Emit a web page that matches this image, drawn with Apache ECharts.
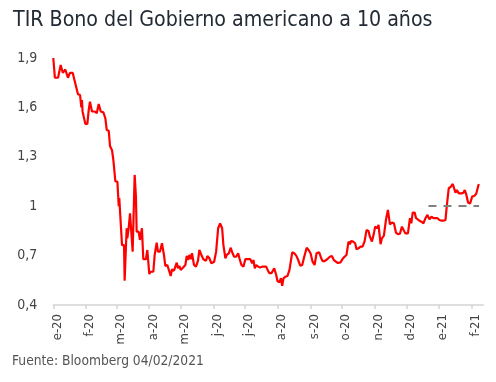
<!DOCTYPE html>
<html>
<head>
<meta charset="utf-8">
<script src="https://cdn.jsdelivr.net/npm/echarts@6/dist/echarts.min.js"></script>
<style>
html,body{margin:0;padding:0;background:#fff;}
#c{width:496px;height:382px;}
</style>
</head>
<body>
<div id="c"></div>
<script>
// Days since 2020-01-01
const days = [0,1.5,4.5,7,9,11.4,13.9,15.8,18.4,20.3,
21.5,23.4,25.4,26.6,27.2,27.8,29.1,30.4,32.3,33.6,
34.8,36.7,39.3,41.2,43.1,45,47.5,49.4,50.7,52.6,
53.8,55.7,57,58.9,60.8,62.1,62.6,64,65.2,67.1,
67.7,69.6,70.2,71.5,72.8,74,75.3,77.2,78.4,79.1,
81,82.2,84.1,85.4,87.9,89.2,91.1,92.4,94.9,96.2,
98.1,99.3,101.2,103.1,105,106.3,108.2,109.5,111.4,112.6,
114.5,115.8,117.1,118.3,119.6,120.9,123.4,125.3,126.6,127.8,
129.1,130.4,131.6,133.5,135.4,137.3,138.6,140.5,142.4,144.9,
146.2,148.1,150,152.6,154.5,156.4,158.3,160.2,161.4,163.3,
164.6,166.5,168.4,169.7,171.6,173.5,175.4,176.6,178.5,180.4,
182.3,184.9,186.8,188.7,189.9,191.2,192.5,194.4,196.3,198.2,
200.1,202,203.9,205.1,207,209.6,211.5,212.7,214.6,215.9,
217.2,218.4,220.3,222.2,224.1,226.7,228.6,230.5,232.4,234.3,
236.2,238.1,240.4,242.2,244.1,246,247.9,249.8,252.3,254.2,
255.5,257.4,259.9,262.4,264.3,266.2,268.1,270,272.5,274.4,
276.3,278.2,280.1,281.4,282.6,284.5,286.4,287.7,289.6,291.5,
293.4,295.3,297.2,299.1,300.4,302.3,304.2,305.4,307.3,308.6,
310.5,311.8,313.7,315.6,317.5,319.4,321.3,323.2,325.1,327,
328.9,330.8,332.1,334,336.5,338.4,339.7,341,342.9,344.2,
345.5,347.4,349.3,351.2,353.1,355,356.9,358.8,360.7,362.6,
364.5,366.4,368.3,370.2,372.1,373.3,375.2,377.1,379,380.3,
381.6,382.9,384.8,387.3,389.2,390.4,391.7,393.6,395.5,397.4,
399.3,401.2,403.7];

// 10-year US Treasury yield (%)
const values = [1.90,1.78,1.78,1.857,1.81,1.83,1.78,1.81,1.81,1.76,
1.75,1.68,1.675,1.60,1.645,1.574,1.566,1.50,1.50,1.584,
1.635,1.575,1.575,1.565,1.62,1.575,1.57,1.534,1.463,1.458,
1.366,1.34,1.28,1.15,1.15,1.00,1.05,0.896,0.764,0.764,
0.548,0.866,0.805,0.866,0.957,0.957,0.724,1.19,1.058,0.845,
0.845,0.795,0.866,0.678,0.678,0.734,0.588,0.602,0.602,0.704,
0.778,0.724,0.724,0.775,0.704,0.637,0.643,0.633,0.576,0.617,
0.608,0.617,0.657,0.623,0.637,0.613,0.629,0.643,0.698,0.673,
0.704,0.678,0.714,0.643,0.633,0.669,0.734,0.704,0.678,0.669,
0.698,0.684,0.653,0.663,0.724,0.866,0.896,0.866,0.764,0.684,
0.704,0.714,0.748,0.72,0.693,0.693,0.714,0.684,0.643,0.633,
0.679,0.679,0.679,0.653,0.673,0.623,0.643,0.633,0.627,0.633,
0.633,0.633,0.606,0.593,0.593,0.623,0.582,0.546,0.538,0.562,
0.517,0.562,0.572,0.576,0.613,0.72,0.714,0.70,0.673,0.639,
0.643,0.693,0.748,0.734,0.714,0.663,0.643,0.714,0.72,0.684,
0.667,0.667,0.678,0.693,0.698,0.673,0.663,0.655,0.659,0.679,
0.693,0.704,0.785,0.769,0.789,0.785,0.775,0.738,0.744,0.754,
0.754,0.785,0.855,0.849,0.815,0.785,0.835,0.876,0.866,0.886,
0.769,0.805,0.821,0.916,0.977,0.89,0.90,0.896,0.84,0.83,
0.833,0.876,0.88,0.835,0.835,0.927,0.896,0.961,0.961,0.927,
0.933,0.912,0.906,0.896,0.927,0.947,0.92,0.936,0.927,0.927,
0.927,0.916,0.912,0.912,0.916,0.997,1.109,1.118,1.135,1.123,
1.082,1.098,1.078,1.078,1.082,1.098,1.074,1.021,1.017,1.058,
1.062,1.074,1.135];

const tickDates = ['2020-01-01','2020-02-01','2020-03-01','2020-04-01','2020-05-01','2020-06-01','2020-07-01',
  '2020-08-01','2020-09-01','2020-10-01','2020-11-01','2020-12-01','2021-01-01','2021-02-01'];
const tickLabels = ['e-20','f-20','m-20','a-20','m-20','j-20','j-20','a-20','s-20','o-20','n-20','d-20','e-21','f-21'];
const yTicks = [0.4,0.7,1,1.3,1.6,1.9];

const refLevel = 1;
const refStart = '2020-12-22';
const refEnd = '2021-02-08';

const axisStart = '2020-01-01';
const axisEnd = '2021-02-12';

const titleText = 'TIR Bono del Gobierno americano a 10 años';
const sourceText = 'Fuente: Bloomberg 04/02/2021';

const DAY = 86400000;
function ts(s){ const p = s.split('-'); return Date.UTC(+p[0], +p[1]-1, +p[2]); }
const base = ts(axisStart);
function dayOf(s){ return Math.round((ts(s) - base) / DAY); }
const seriesData = days.map((d,i) => [d, values[i]]);
const tickDays = tickDates.map(dayOf);

const FONT = '"Liberation Sans Narrow", "DejaVu Sans Condensed", "Open Sans", sans-serif';

const chart = echarts.init(document.getElementById('c'), null, {renderer:'canvas'});
chart.setOption({
  animation: false,
  backgroundColor: '#ffffff',
  title: {
    text: titleText,
    left: 13, top: 10, padding: 0,
    textStyle: {fontFamily: FONT, fontSize: 21.2, fontWeight: 'normal', color: '#222a33'}
  },
  graphic: [{
    type: 'text', left: 12, top: 354,
    style: {text: sourceText, font: '13.7px ' + FONT, fill: '#555555'}
  }],
  grid: {left: 53.3, right: 12.7, top: 58, bottom: 77, containLabel: false},
  xAxis: {
    type: 'value',
    min: 0, max: dayOf(axisEnd),
    axisLine: {show: true, lineStyle: {color: '#d4d4d4', width: 1.5}},
    axisTick: {show: true, length: 4, lineStyle: {color: '#d4d4d4', width: 1.5}, customValues: tickDays},
    splitLine: {show: false},
    axisLabel: {
      customValues: tickDays,
      rotate: 90, margin: 9,
      verticalAlign: 'top', lineHeight: 8,
      fontFamily: FONT, fontSize: 13, color: '#444444',
      formatter: function(v){
        const i = tickDays.indexOf(Math.round(v));
        return i >= 0 ? tickLabels[i] : '';
      }
    }
  },
  yAxis: {
    type: 'value', min: 0.4, max: 1.9,
    axisLine: {show: false}, axisTick: {show: false}, splitLine: {show: false},
    axisLabel: {
      customValues: yTicks,
      margin: 16,
      fontFamily: FONT, fontSize: 14, color: '#444444',
      formatter: v => String(Math.round(v*10)/10).replace('.', ',')
    }
  },
  series: [{
    type: 'line',
    data: seriesData,
    showSymbol: false,
    lineStyle: {color: '#ff0000', width: 2.2},
    itemStyle: {color: '#ff0000'},
    markLine: {
      silent: true, symbol: 'none', label: {show: false},
      lineStyle: {color: '#808080', width: 2, type: [8, 7]},
      data: [[{coord: [dayOf(refStart), refLevel]}, {coord: [dayOf(refEnd), refLevel]}]]
    }
  }]
});
</script>
</body>
</html>
